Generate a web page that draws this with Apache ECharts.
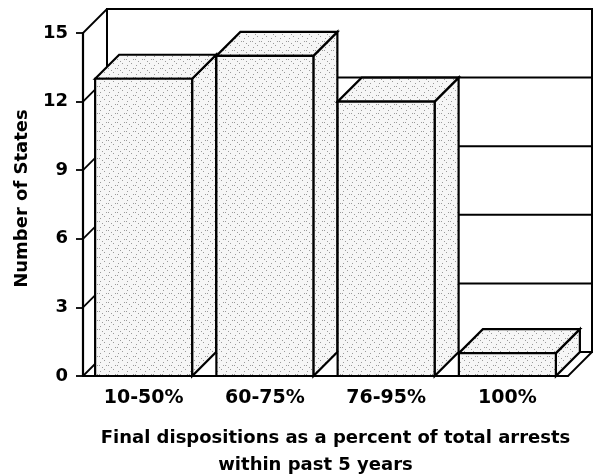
<!DOCTYPE html>
<html>
<head>
<meta charset="utf-8">
<script src="https://cdn.jsdelivr.net/npm/echarts@6/dist/echarts.min.js"></script>
<style>html,body{margin:0;padding:0;background:#fff;}#chart{width:593px;height:476px;}</style>
</head>
<body>
<div id="chart"></div>
<script>
const categories = ['10-50%', '60-75%', '76-95%', '100%'];
const values = [13, 14, 12, 1];
const yMin = 0;
const yMax = 15;
const yInterval = 3;
const yTitle = 'Number of States';
const xTitleLine1 = 'Final dispositions as a percent of total arrests';
const xTitleLine2 = 'within past 5 years';

const DEPTH = 24;
const FONT = 'DejaVu Sans';
const LINE = '#000';

// stipple texture for the bar faces
const pc = document.createElement('canvas');
pc.width = 9; pc.height = 9;
const pctx = pc.getContext('2d');
pctx.fillStyle = '#f6f6f6';
pctx.fillRect(0, 0, 9, 9);
pctx.fillStyle = '#9a9a9a';
[[1, 2], [5, 0], [7, 5], [3, 7], [0, 5]].forEach(function (p) { pctx.fillRect(p[0], p[1], 1, 1); });
const BAR_FILL = { image: pc, repeat: 'repeat' };

function wallRender(params, api) {
  const cs = params.coordSys;
  const d = DEPTH;
  const children = [];
  children.push({
    type: 'rect',
    shape: { x: cs.x + d, y: cs.y - d, width: cs.width, height: cs.height },
    style: { fill: '#fff', stroke: LINE, lineWidth: 2 }
  });
  for (let t = yMin; t <= yMax; t += yInterval) {
    const y = api.coord([0, t])[1];
    if (t > yMin && t < yMax) {
      children.push({
        type: 'line',
        shape: { x1: cs.x + d, y1: y - d, x2: cs.x + cs.width + d, y2: y - d },
        style: { stroke: LINE, lineWidth: 2 }
      });
    }
    children.push({
      type: 'line',
      shape: { x1: cs.x, y1: y, x2: cs.x + d, y2: y - d },
      style: { stroke: LINE, lineWidth: 1.8 }
    });
  }
  children.push({
    type: 'line',
    shape: { x1: cs.x + cs.width, y1: cs.y + cs.height, x2: cs.x + cs.width + d, y2: cs.y + cs.height - d },
    style: { stroke: LINE, lineWidth: 1.8 }
  });
  return { type: 'group', children: children };
}

function barRender(params, api) {
  const i = api.value(0);
  const v = api.value(1);
  const base = api.coord([i, 0]);
  const top = api.coord([i, v]);
  const band = api.size([1, 0])[0];
  const w = band * 0.8;
  const d = DEPTH;
  const xl = base[0] - w / 2, xr = base[0] + w / 2;
  const yb = base[1], yt = top[1];
  const st = { fill: BAR_FILL, stroke: LINE, lineWidth: 2.2, lineJoin: 'miter' };
  return {
    type: 'group',
    children: [
      { type: 'polygon', shape: { points: [[xr, yb], [xr, yt], [xr + d, yt - d], [xr + d, yb - d]] }, style: st },
      { type: 'polygon', shape: { points: [[xl, yt], [xl + d, yt - d], [xr + d, yt - d], [xr, yt]] }, style: st },
      { type: 'rect', shape: { x: xl, y: yt, width: w, height: yb - yt }, style: st }
    ]
  };
}

const chart = echarts.init(document.getElementById('chart'), null, { renderer: 'canvas' });
chart.setOption({
  animation: false,
  backgroundColor: '#fff',
  grid: { left: 83, right: 25, top: 33, bottom: 100, containLabel: false, outerBoundsMode: 'none' },
  xAxis: {
    type: 'category',
    data: categories,
    boundaryGap: true,
    axisLine: { show: true, lineStyle: { color: LINE, width: 2.2 } },
    axisTick: { show: false },
    axisLabel: { color: '#000', fontFamily: FONT, fontWeight: 'bold', fontSize: 19, margin: 13 },
    name: '{a|' + xTitleLine1 + '}\n{b|' + xTitleLine2 + '}',
    nameLocation: 'middle',
    nameGap: 49,
    nameTextStyle: {
      color: '#000', fontFamily: FONT, fontWeight: 'bold', fontSize: 18, lineHeight: 27, align: 'center',
      rich: {
        a: { color: '#000', fontFamily: FONT, fontWeight: 'bold', fontSize: 18, lineHeight: 27, padding: [0, 0, 0, 20] },
        b: { color: '#000', fontFamily: FONT, fontWeight: 'bold', fontSize: 18, lineHeight: 27, padding: [0, 20, 0, 0] }
      }
    },
    z: 10
  },
  yAxis: {
    type: 'value',
    min: yMin,
    max: yMax,
    interval: yInterval,
    axisLine: { show: true, lineStyle: { color: LINE, width: 2.2 } },
    axisTick: { show: true, inside: false, length: 7, lineStyle: { color: LINE, width: 1.8 } },
    splitLine: { show: false },
    axisLabel: { color: '#000', fontFamily: FONT, fontWeight: 'bold', fontSize: 18, margin: 15 },
    name: yTitle,
    nameLocation: 'middle',
    nameGap: 52,
    nameTextStyle: { color: '#000', fontFamily: FONT, fontWeight: 'bold', fontSize: 18, padding: [0, 0, 0, 12] },
    z: 10
  },
  series: [
    {
      type: 'custom',
      renderItem: wallRender,
      data: [[0, 0]],
      encode: { x: 0, y: 1 },
      clip: false,
      silent: true,
      z: 1
    },
    {
      type: 'custom',
      renderItem: barRender,
      data: values.map(function (v, i) { return [i, v]; }),
      encode: { x: 0, y: 1 },
      clip: false,
      silent: true,
      z: 2
    }
  ]
});
</script>
</body>
</html>
